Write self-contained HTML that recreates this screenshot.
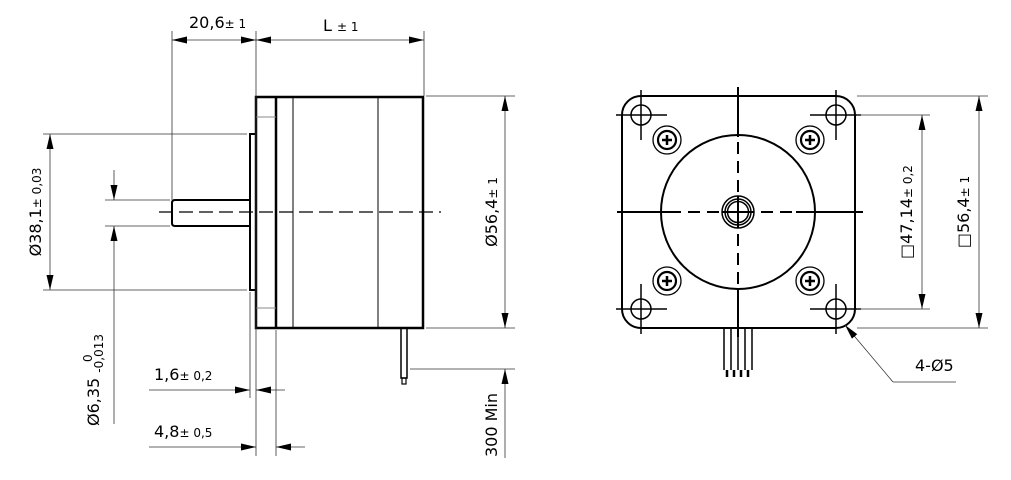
<!DOCTYPE html>
<html><head><meta charset="utf-8"><style>
html,body{margin:0;padding:0;background:#fff;width:1011px;height:480px;overflow:hidden}
svg{display:block}
text{font-family:"DejaVu Sans","Liberation Sans",sans-serif;fill:#000}
</style></head><body>
<svg width="1011" height="480" viewBox="0 0 1011 480" xmlns="http://www.w3.org/2000/svg">
<defs>
<marker id="a" viewBox="0 0 15 7" refX="15" refY="3.5" markerWidth="15" markerHeight="7" orient="auto-start-reverse" markerUnits="userSpaceOnUse"><path d="M0,0 L15,3.5 L0,7 Z" fill="#000"/></marker>
</defs>
<g fill="none" stroke="#000">
<g stroke-width="2.5">
<rect x="256" y="97" width="167" height="231"/>
<line x1="276" y1="97" x2="276" y2="328"/>
<rect x="250" y="134" width="6" height="156" stroke-width="2"/>
<path d="M250,200 H175 Q172,200 172,203 V223 Q172,226 175,226 H250" stroke-width="2"/>
<rect x="401" y="328" width="6" height="50" stroke-width="1.5"/>
<rect x="402" y="378" width="4" height="6" stroke-width="1.2"/>
</g>
<line x1="293" y1="97" x2="293" y2="328" stroke-width="1"/>
<line x1="378" y1="97" x2="378" y2="328" stroke-width="1"/>
<line x1="256" y1="117" x2="276" y2="117" stroke="#888" stroke-width="1"/>
<line x1="256" y1="308" x2="276" y2="308" stroke="#888" stroke-width="1"/>
<line x1="159" y1="212" x2="441" y2="212" stroke-width="1.3" stroke-dasharray="14,6"/>
<g stroke-width="0.8" stroke="#333">
<line x1="172" y1="31" x2="172" y2="200"/>
<line x1="256" y1="31" x2="256" y2="456"/>
<line x1="424" y1="31" x2="424" y2="96"/>
<line x1="172" y1="40" x2="256" y2="40" marker-start="url(#a)" marker-end="url(#a)"/>
<line x1="256" y1="40" x2="424" y2="40" marker-start="url(#a)" marker-end="url(#a)"/>
<line x1="43" y1="134" x2="247" y2="134"/>
<line x1="43" y1="290" x2="247" y2="290"/>
<line x1="50" y1="134" x2="50" y2="290" marker-start="url(#a)" marker-end="url(#a)"/>
<line x1="105" y1="200" x2="170" y2="200"/>
<line x1="105" y1="226" x2="170" y2="226"/>
<line x1="114" y1="170" x2="114" y2="200" marker-end="url(#a)"/>
<line x1="114" y1="424" x2="114" y2="226" marker-end="url(#a)"/>
<line x1="250" y1="292" x2="250" y2="398"/>
<line x1="149" y1="390" x2="250" y2="390" marker-end="url(#a)"/>
<line x1="285" y1="390" x2="256" y2="390" marker-end="url(#a)"/>
<line x1="276" y1="330" x2="276" y2="456"/>
<line x1="149" y1="447" x2="256" y2="447" marker-end="url(#a)"/>
<line x1="305" y1="447" x2="276" y2="447" marker-end="url(#a)"/>
<line x1="426" y1="96" x2="515" y2="96"/>
<line x1="426" y1="328" x2="515" y2="328"/>
<line x1="505" y1="96" x2="505" y2="328" marker-start="url(#a)" marker-end="url(#a)"/>
<line x1="410" y1="369" x2="515" y2="369"/>
<line x1="505" y1="458" x2="505" y2="369" marker-end="url(#a)"/>
</g>
<g stroke-width="2">
<path d="M641,96 H836 A19,19 0 0 1 855,115 V309 A19,19 0 0 1 836,328 H641 A19,19 0 0 1 622,309 V115 A19,19 0 0 1 641,96 Z"/>
<circle cx="738" cy="212" r="77"/>
<circle cx="738" cy="212" r="16" stroke-width="1.5"/>
<circle cx="738" cy="212" r="13" stroke-width="1.5"/>
<circle cx="738" cy="212" r="10.5" stroke-width="1.5"/>
</g>
<g stroke-width="1.5">
<circle cx="641" cy="115" r="10"/><circle cx="836" cy="115" r="10"/>
<circle cx="641" cy="309" r="10"/><circle cx="836" cy="309" r="10"/>
<line x1="616" y1="115" x2="667" y2="115"/><line x1="641" y1="90" x2="641" y2="140"/>
<line x1="810" y1="115" x2="861" y2="115"/><line x1="836" y1="90" x2="836" y2="140"/>
<line x1="616" y1="309" x2="667" y2="309"/><line x1="641" y1="284" x2="641" y2="334"/>
<line x1="810" y1="309" x2="861" y2="309"/><line x1="836" y1="284" x2="836" y2="334"/>
</g>
<g stroke-width="1.3">
<circle cx="667" cy="140" r="14"/><circle cx="810" cy="140" r="14"/>
<circle cx="667" cy="281" r="14"/><circle cx="810" cy="281" r="14"/>
<circle cx="667" cy="140" r="9" stroke-width="2.2"/><circle cx="810" cy="140" r="9" stroke-width="2.2"/>
<circle cx="667" cy="281" r="9" stroke-width="2.2"/><circle cx="810" cy="281" r="9" stroke-width="2.2"/>
</g>
<g stroke-width="2.5">
<path d="M662,140h10M667,135v10M805,140h10M810,135v10M662,281h10M667,276v10M805,281h10M810,276v10"/>
</g>
<g stroke-width="2">
<line x1="617" y1="212" x2="681" y2="212"/>
<line x1="688" y1="212" x2="722" y2="212" stroke-dasharray="12,7"/>
<line x1="722" y1="212" x2="754" y2="212"/>
<line x1="761" y1="212" x2="795" y2="212" stroke-dasharray="12,7"/>
<line x1="796" y1="212" x2="863" y2="212"/>
<line x1="738" y1="87" x2="738" y2="137"/>
<line x1="738" y1="142" x2="738" y2="196" stroke-dasharray="12,7"/>
<line x1="738" y1="196" x2="738" y2="228"/>
<line x1="738" y1="234" x2="738" y2="286" stroke-dasharray="12,7"/>
<line x1="738" y1="288" x2="738" y2="337"/>
</g>
<g stroke-width="1.5">
<line x1="724" y1="328" x2="724" y2="370"/><line x1="731" y1="328" x2="731" y2="370"/>
<line x1="738" y1="328" x2="738" y2="370"/><line x1="745" y1="328" x2="745" y2="370"/>
<line x1="752" y1="328" x2="752" y2="370"/>
</g>
<g stroke-width="2.5"><path d="M727,370v7M734,370v7M741,370v7M748,370v7"/></g>
<g stroke-width="0.8" stroke="#333">
<line x1="857" y1="115" x2="930" y2="115"/>
<line x1="857" y1="309" x2="930" y2="309"/>
<line x1="922" y1="115" x2="922" y2="309" marker-start="url(#a)" marker-end="url(#a)"/>
<line x1="857" y1="96" x2="988" y2="96"/>
<line x1="857" y1="328" x2="988" y2="328"/>
<line x1="979" y1="96" x2="979" y2="328" marker-start="url(#a)" marker-end="url(#a)"/>
<line x1="893" y1="382" x2="845" y2="325" marker-end="url(#a)"/>
<line x1="893" y1="382" x2="956" y2="382"/>
</g>
</g>
<text x="189" y="28" font-size="16">20,6<tspan font-size="12">± 1</tspan></text>
<text x="323" y="31" font-size="16">L <tspan font-size="12">± 1</tspan></text>
<text transform="translate(41,212) rotate(-90)" text-anchor="middle" font-size="16">Ø38,1<tspan font-size="12">± 0,03</tspan></text>
<text transform="translate(99,380) rotate(-90)" text-anchor="middle" font-size="16">Ø6,35 <tspan font-size="12" dy="4">-0,013</tspan></text>
<text transform="translate(92,362) rotate(-90)" font-size="12">0</text>
<text x="154" y="380" font-size="16">1,6<tspan font-size="12">± 0,2</tspan></text>
<text x="154" y="437" font-size="16">4,8<tspan font-size="12">± 0,5</tspan></text>
<text transform="translate(497,212) rotate(-90)" text-anchor="middle" font-size="16">Ø56,4<tspan font-size="12">± 1</tspan></text>
<text transform="translate(497,425) rotate(-90)" text-anchor="middle" font-size="16">300 Min</text>
<text transform="translate(912,212) rotate(-90)" text-anchor="middle" font-size="16">□47,14<tspan font-size="12">± 0,2</tspan></text>
<text transform="translate(969,212) rotate(-90)" text-anchor="middle" font-size="16">□56,4<tspan font-size="12">± 1</tspan></text>
<text x="915" y="371" font-size="16">4-Ø5</text>
</svg>
</body></html>
